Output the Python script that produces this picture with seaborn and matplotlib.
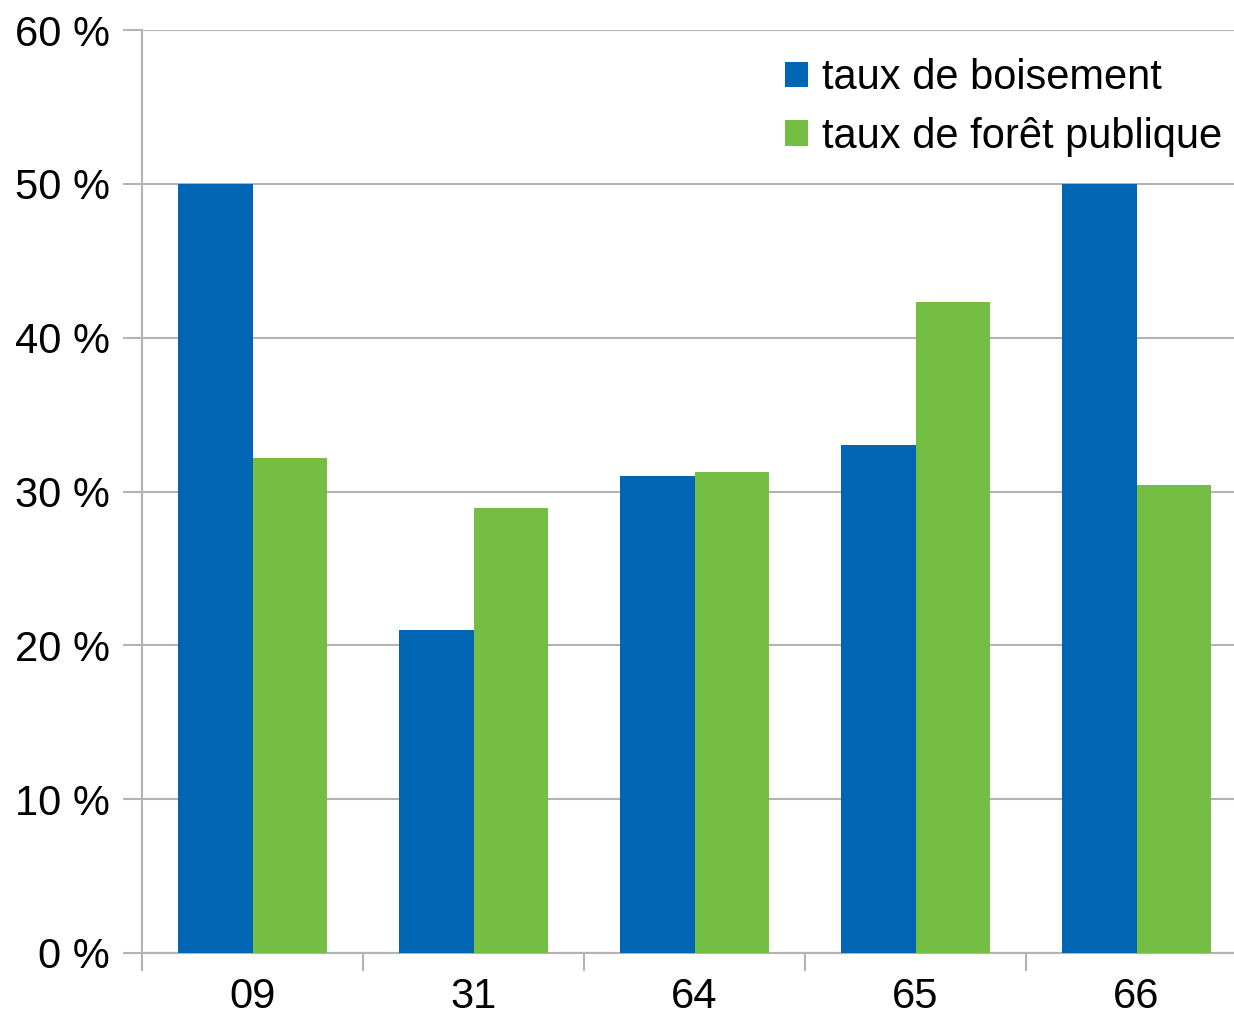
import matplotlib
matplotlib.use("Agg")
import matplotlib.pyplot as plt
import seaborn as sns
import pandas as pd

# Données
departements = ["09", "31", "64", "65", "66"]
taux_boisement = [50.0, 21.0, 31.0, 33.0, 50.0]
taux_foret_publique = [32.2, 28.9, 31.3, 42.3, 30.4]
series = ["taux de boisement", "taux de forêt publique"]
couleurs = ["#0066b3", "#74be44"]
y_ticks = [0, 10, 20, 30, 40, 50, 60]
y_tick_labels = ["0 %", "10 %", "20 %", "30 %", "40 %", "50 %", "60 %"]

df = pd.DataFrame({
    "Département": departements * 2,
    "Valeur": taux_boisement + taux_foret_publique,
    "Série": [series[0]] * len(departements) + [series[1]] * len(departements),
})

sns.set_style("white")
plt.rcParams["font.family"] = ["Liberation Sans", "DejaVu Sans"]
plt.rcParams["text.color"] = "black"

grid_col = "#b3b3b3"
W, H = 1234, 1023
fig = plt.figure(figsize=(W / 100, H / 100), dpi=100)
ax = fig.add_axes([142 / W, (H - 953) / H, 1105 / W, 923 / H])

sns.barplot(data=df, x="Département", y="Valeur", hue="Série", order=departements,
            hue_order=series, palette=couleurs, saturation=1, width=0.67,
            linewidth=0, ax=ax, zorder=3)

ax.set_ylim(0, 60)
ax.set_xlim(-0.5, len(departements) - 0.5)
ax.set_yticks(y_ticks)
ax.set_yticklabels(y_tick_labels, fontsize=30)
ax.yaxis.grid(True, color=grid_col, linewidth=1.5, zorder=0)
ax.set_axisbelow(True)
ax.tick_params(axis="y", left=True, length=14, width=1.5, color=grid_col, pad=9,
               labelcolor="black")

# ticks x : traits aux limites, étiquettes au centre
ax.set_xticks([i - 0.5 for i in range(len(departements) + 1)])
ax.set_xticklabels([])
ax.set_xticks(range(len(departements)), minor=True)
ax.set_xticklabels(departements, minor=True, fontsize=30)
ax.tick_params(axis="x", which="major", bottom=True, length=13, width=1.5,
               color=grid_col, direction="out")
ax.tick_params(axis="x", which="minor", bottom=True, length=0, pad=17, labelcolor="black")

for s in ["top", "right"]:
    ax.spines[s].set_visible(False)
for s in ["left", "bottom"]:
    ax.spines[s].set_color(grid_col)
    ax.spines[s].set_linewidth(1.5)

ax.set_xlabel("")
ax.set_ylabel("")

handles, labels = ax.get_legend_handles_labels()
leg = ax.legend(handles, labels, loc="upper left", frameon=False, fontsize=30,
                bbox_to_anchor=(785 / W, 1 - 58 / H), bbox_transform=fig.transFigure,
                borderpad=0, borderaxespad=0, handlelength=0.55, handleheight=0.55,
                handletextpad=0.33, labelspacing=0.45)
for t in leg.get_texts():
    t.set_color("black")

fig.savefig("out.png", dpi=100)
